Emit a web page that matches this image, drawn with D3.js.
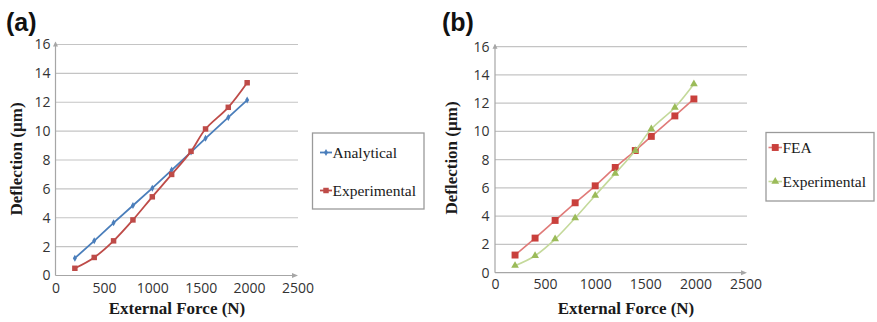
<!DOCTYPE html>
<html><head><meta charset="utf-8">
<script src="https://cdn.jsdelivr.net/npm/d3@7"></script>
<style>body{margin:0;background:#fff}svg{display:block}</style>
</head><body>
<svg id="chart" width="877" height="322"></svg>
<script>
// ---- data ----
const forceA = [200, 400, 600, 800, 1000, 1200, 1400, 1550, 1785, 1980];
const analytical = [1.2, 2.4, 3.65, 4.85, 6.05, 7.3, 8.55, 9.5, 10.95, 12.15];
const experimentalA = [0.5, 1.25, 2.4, 3.85, 5.45, 7.0, 8.6, 10.15, 11.65, 13.35];
const forceB = [200, 400, 600, 800, 1000, 1200, 1400, 1560, 1795, 1985];
const fea = [1.25, 2.45, 3.7, 4.95, 6.15, 7.45, 8.65, 9.65, 11.1, 12.3];
const experimentalB = [0.5, 1.2, 2.38, 3.87, 5.47, 7.03, 8.64, 10.17, 11.7, 13.36];
const xTicks = [0, 500, 1000, 1500, 2000, 2500];
const yTicks = [0, 2, 4, 6, 8, 10, 12, 14, 16];
const xTitle = "External Force (N)";
const yTitle = "Deflection (µm)";

const svg = d3.select("#chart");

function panel(cfg) {
  const g = svg.append("g");
  const x = d3.scaleLinear().domain([0, 2500]).range([cfg.x0, cfg.x1]);
  const y = d3.scaleLinear().domain([0, 16]).range([cfg.y0, cfg.y1]);

  // gridlines
  g.append("g").selectAll("line").data(yTicks.filter(d => d > 0)).join("line")
    .attr("x1", cfg.x0).attr("x2", cfg.gridEnd)
    .attr("y1", d => y(d)).attr("y2", d => y(d))
    .attr("stroke", "#c4c4c4").attr("stroke-width", 1.2);

  // axes lines with arrows
  g.append("line").attr("x1", cfg.x0).attr("x2", cfg.x0).attr("y1", cfg.y0).attr("y2", cfg.y1 - 2)
    .attr("stroke", "#a6a6a6").attr("stroke-width", 1.2);
  g.append("path").attr("d", `M${cfg.x0 - 2.5},${cfg.y1 + 2} L${cfg.x0},${cfg.y1 - 3} L${cfg.x0 + 2.5},${cfg.y1 + 2}Z`)
    .attr("fill", "#a6a6a6");
  g.append("line").attr("x1", cfg.x0).attr("x2", cfg.gridEnd - 2).attr("y1", cfg.y0).attr("y2", cfg.y0)
    .attr("stroke", "#a6a6a6").attr("stroke-width", 1.2);
  g.append("path").attr("d", `M${cfg.gridEnd - 6},${cfg.y0 - 2.5} L${cfg.gridEnd},${cfg.y0} L${cfg.gridEnd - 6},${cfg.y0 + 2.5}Z`)
    .attr("fill", "#a6a6a6");

  // tick labels
  const xa = d3.axisBottom(x).tickValues(xTicks).tickFormat(d3.format("d")).tickSize(0).tickPadding(0);
  const xg = g.append("g").attr("transform", `translate(0,${cfg.xLabelY})`).call(xa);
  xg.select(".domain").remove();
  xg.selectAll("text").attr("font-family", "Open Sans, Liberation Sans, sans-serif")
    .attr("font-size", 14).attr("fill", "#333").attr("dy", "0.32em").attr("y", 0);

  const ya = d3.axisLeft(y).tickValues(yTicks).tickFormat(d3.format("d")).tickSize(0).tickPadding(0);
  const yg = g.append("g").attr("transform", `translate(${cfg.yLabelX},0)`).call(ya);
  yg.select(".domain").remove();
  yg.selectAll("text").attr("font-family", "Open Sans, Liberation Sans, sans-serif")
    .attr("font-size", 14).attr("fill", "#333").attr("x", 0).attr("dy", "0.32em");

  // titles
  g.append("text").attr("x", cfg.xTitleX).attr("y", 314).attr("text-anchor", "middle")
    .attr("font-family", "Liberation Serif, serif").attr("font-weight", "bold").attr("font-size", 17)
    .attr("fill", "#1a1a1a").text(xTitle);
  g.append("text").attr("transform", `translate(${cfg.yTitleX},${cfg.yTitleY}) rotate(-90)`)
    .attr("text-anchor", "middle").attr("dy", "0.35em")
    .attr("font-family", "Liberation Serif, serif").attr("font-weight", "bold").attr("font-size", 17)
    .attr("fill", "#1a1a1a").text(yTitle);

  g.append("text").attr("x", cfg.labelX).attr("y", 31)
    .attr("font-family", "Liberation Sans, Arial, sans-serif").attr("font-weight", "bold").attr("font-size", 25)
    .attr("fill", "#111").text(cfg.label);

  // series
  const sym = {
    diamond: d3.symbol().type(d3.symbolDiamond),
    square: d3.symbol().type(d3.symbolSquare),
    triangle: d3.symbol().type(d3.symbolTriangle)
  };
  cfg.series.forEach(s => {
    const pts = cfg.xs.map((v, i) => [x(v), y(s.values[i])]);
    const line = d3.line().curve(s.smooth ? d3.curveCatmullRom.alpha(0) : d3.curveLinear);
    g.append("path").attr("d", line(pts)).attr("fill", "none")
      .attr("stroke", s.lineColor).attr("stroke-width", s.lineWidth);
    g.append("g").selectAll("path").data(pts).join("path")
      .attr("transform", d => `translate(${d[0]},${d[1]})`)
      .attr("d", sym[s.marker].size(s.size)())
      .attr("fill", s.markerColor);
  });

  // legend
  const L = cfg.legend;
  g.append("rect").attr("x", L.x).attr("y", L.y).attr("width", L.w).attr("height", L.h)
    .attr("fill", "#fff").attr("stroke", "#9a9a9a").attr("stroke-width", 1.3);
  cfg.series.forEach((s, i) => {
    const yy = L.rows[i];
    g.append("line").attr("x1", L.mx0).attr("x2", L.mx1).attr("y1", yy).attr("y2", yy)
      .attr("stroke", s.lineColor).attr("stroke-width", s.lineWidth);
    g.append("path").attr("transform", `translate(${(L.mx0 + L.mx1) / 2},${yy})`)
      .attr("d", sym[s.marker].size(s.size)()).attr("fill", s.markerColor);
    g.append("text").attr("x", L.mx1 + 0.5).attr("y", yy).attr("dy", "0.33em")
      .attr("font-family", "Liberation Serif, serif").attr("font-size", 15.5)
      .attr("fill", "#1a1a1a").text(s.name);
  });
}

panel({
  label: "(a)", labelX: 6,
  x0: 55.5, x1: 297.5, gridEnd: 298, y0: 275.5, y1: 44.5,
  xLabelY: 288.5, yLabelX: 50.5, xTitleX: 177, yTitleX: 16, yTitleY: 159,
  xs: forceA,
  series: [
    { name: "Analytical", values: analytical, lineColor: "#4a7ebb", markerColor: "#4a7ebb", lineWidth: 1.8, marker: "diamond", size: 14, smooth: false },
    { name: "Experimental", values: experimentalA, lineColor: "#be4b48", markerColor: "#be4b48", lineWidth: 1.8, marker: "square", size: 30, smooth: true }
  ],
  legend: { x: 312.5, y: 133, w: 111.5, h: 76, rows: [152.5, 190.5], mx0: 320, mx1: 332 }
});

panel({
  label: "(b)", labelX: 442,
  x0: 495, x1: 745.5, gridEnd: 747, y0: 272.7, y1: 46.7,
  xLabelY: 285, yLabelX: 489.5, xTitleX: 626, yTitleX: 451, yTitleY: 158,
  xs: forceB,
  series: [
    { name: "FEA", values: fea, lineColor: "#e07a78", markerColor: "#c9403c", lineWidth: 1.6, marker: "square", size: 48, smooth: true },
    { name: "Experimental", values: experimentalB, lineColor: "#c4d99a", markerColor: "#9bbb59", lineWidth: 1.6, marker: "triangle", size: 26, smooth: true }
  ],
  legend: { x: 766, y: 132.5, w: 108, h: 68.5, rows: [147.5, 181.5], mx0: 768.5, mx1: 782 }
});
</script>
</body></html>
